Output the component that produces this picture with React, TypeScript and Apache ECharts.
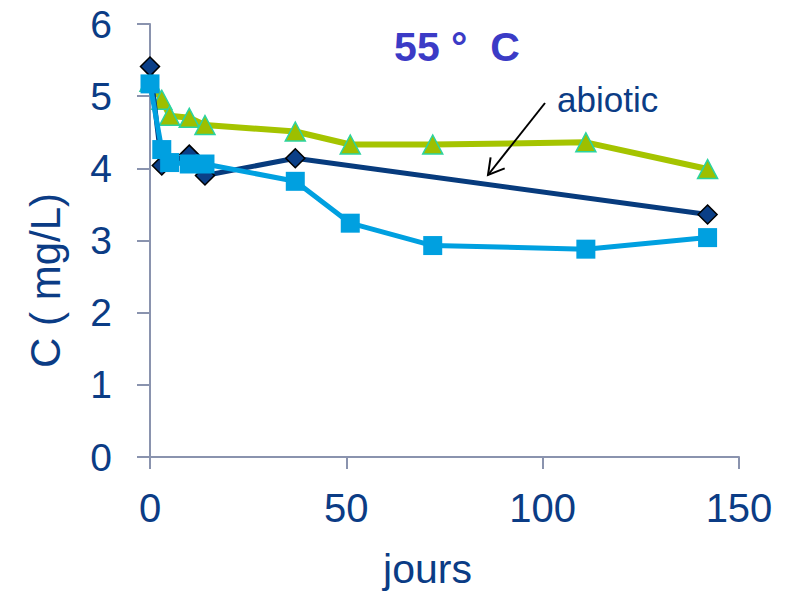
import React, { useEffect, useRef } from "react";
import * as echarts from "echarts";

// Tick values
const xTickInterval = 50;
const yTickInterval = 1;
const xMax = 150;
const yMax = 6;

// Abiotic series (navy diamonds)
const abioticDays = [0, 3, 10, 14, 37, 142];
const abioticValues = [5.41, 4.04, 4.19, 3.9, 4.14, 3.36];

// Green triangles series
const greenDays = [0, 3, 5, 10, 14, 37, 51, 72, 111, 142];
const greenValues = [5.2, 4.95, 4.73, 4.7, 4.6, 4.51, 4.33, 4.33, 4.36, 3.99];

// Light blue squares series
const blueDays = [0, 3, 5, 10, 14, 37, 51, 72, 111, 142];
const blueValues = [5.17, 4.26, 4.08, 4.06, 4.06, 3.82, 3.24, 2.93, 2.88, 3.04];

const titleText = "55 °  C";
const annotationText = "abiotic";
const xName = "jours";
const yName = "C ( mg/L)";

const FONT = "'Liberation Sans', Arial, sans-serif";
const NAVY_TEXT = "#0B3C85";
const AXIS = "#8A93AE";

const pairs = (xs: number[], ys: number[]) => xs.map((x, i) => [x, ys[i]]);

export default function App() {
  const ref = useRef<HTMLDivElement>(null);
  useEffect(() => {
    if (!ref.current) return;
    const chart = echarts.init(ref.current, undefined, { renderer: "svg" });
    const option: any = {
      animation: false,
      backgroundColor: "#ffffff",
      title: {
        text: titleText,
        left: 457,
        top: 26,
        textAlign: "center",
        padding: 0,
        textStyle: {
          fontFamily: FONT,
          fontSize: 41,
          fontWeight: "bold",
          color: "#3B3BC6",
        },
      },
      grid: { left: 150, right: 49, top: 24, bottom: 136, containLabel: false },
      xAxis: {
        type: "value",
        min: 0,
        max: xMax,
        interval: xTickInterval,
        name: xName,
        nameLocation: "middle",
        nameGap: 91,
        nameTextStyle: {
          fontFamily: FONT,
          fontSize: 41,
          color: NAVY_TEXT,
          padding: [0, 34, 0, 0],
        },
        axisLine: { show: true, onZero: false, lineStyle: { color: AXIS, width: 2 } },
        axisTick: { show: true, length: 12, lineStyle: { color: AXIS, width: 2 } },
        axisLabel: { margin: 31, fontFamily: FONT, fontSize: 40, color: NAVY_TEXT },
        splitLine: { show: false },
      },
      yAxis: {
        type: "value",
        min: 0,
        max: yMax,
        interval: yTickInterval,
        name: yName,
        nameLocation: "middle",
        nameGap: 84,
        nameTextStyle: {
          fontFamily: FONT,
          fontSize: 42,
          color: NAVY_TEXT,
          padding: [0, 80, 0, 0],
        },
        axisLine: { show: true, lineStyle: { color: AXIS, width: 2 } },
        axisTick: { show: true, length: 13, lineStyle: { color: AXIS, width: 2 } },
        axisLabel: { margin: 38, fontFamily: FONT, fontSize: 39, color: NAVY_TEXT },
        splitLine: { show: false },
      },
      series: [
        {
          type: "line",
          data: pairs(greenDays, greenValues),
          symbol: "triangle",
          symbolSize: [20, 19],
          lineStyle: { color: "#A5C400", width: 6 },
          itemStyle: { color: "#9DBF00", borderColor: "#2BD3A0", borderWidth: 1.5 },
          z: 2,
          emphasis: { disabled: true },
        },
        {
          type: "line",
          data: pairs(abioticDays, abioticValues),
          symbol: "diamond",
          symbolSize: 19,
          lineStyle: { color: "#073B7D", width: 5 },
          itemStyle: { color: "#0B3F87", borderColor: "#000000", borderWidth: 1.5 },
          z: 3,
          emphasis: { disabled: true },
        },
        {
          type: "line",
          data: pairs(blueDays, blueValues),
          symbol: "rect",
          symbolSize: 19,
          lineStyle: { color: "#00A0E0", width: 5 },
          itemStyle: { color: "#00A0E0" },
          z: 4,
          emphasis: { disabled: true },
        },
      ],
      graphic: [
        {
          type: "text",
          left: 557,
          top: 82,
          style: {
            text: annotationText,
            fontFamily: FONT,
            fontSize: 35,
            fill: NAVY_TEXT,
          },
          z: 10,
        },
        {
          type: "line",
          shape: { x1: 545, y1: 103, x2: 488, y2: 175 },
          style: { stroke: "#000000", lineWidth: 2 },
          z: 10,
        },
        {
          type: "polyline",
          shape: { points: [[490.6, 157.3], [488, 175], [504.7, 168.4]] },
          style: { stroke: "#000000", lineWidth: 2, fill: null },
          z: 10,
        },
      ],
    };
    chart.setOption(option);
    return () => chart.dispose();
  }, []);
  return <div ref={ref} style={{ width: 788, height: 594, position: "absolute", left: 0, top: 0 }} />;
}
